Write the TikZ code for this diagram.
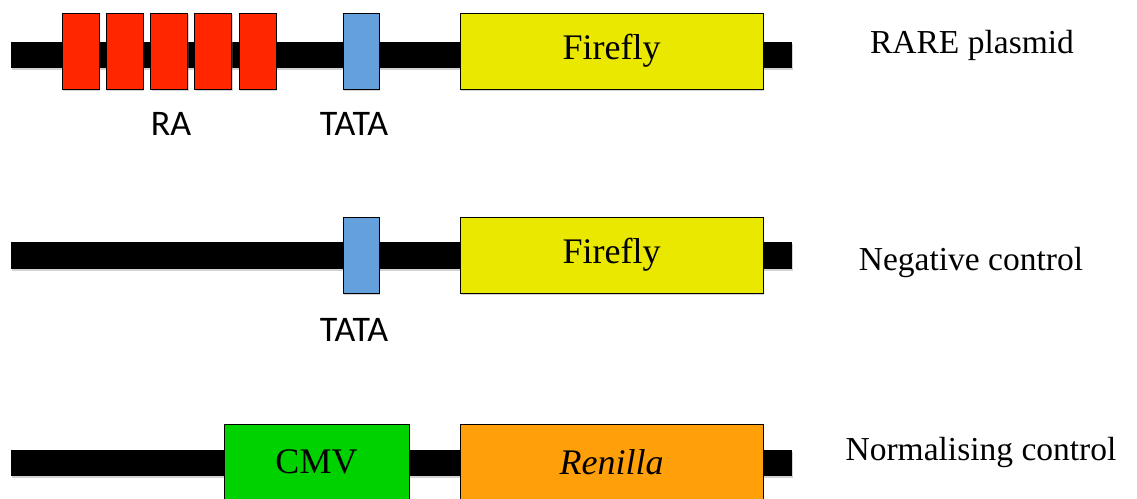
\documentclass[tikz,border=0pt]{standalone}
\usepackage{fontspec}
\setmainfont{Liberation Serif}
\newfontfamily\labelfont{Carlito}
\usetikzlibrary{shadows}
\definecolor{RaClr}{RGB}{255,38,0}
\definecolor{TataClr}{RGB}{99,160,220}
\definecolor{FireClr}{RGB}{235,232,0}
\definecolor{CmvClr}{RGB}{0,210,0}
\definecolor{RenClr}{RGB}{255,160,10}

\begin{document}
\begin{tikzpicture}[x=1pt,y=-1pt,
  backbone/.style={fill=black,drop shadow={opacity=0.35,shadow xshift=1pt,shadow yshift=-2pt}},
  part/.style={draw=black,line width=1pt,minimum height=76pt,inner sep=0pt,
    drop shadow={opacity=0.35,shadow xshift=1pt,shadow yshift=-2pt}},
  partlbl/.style={font=\labelfont\fontsize{36}{40}\selectfont},
  rowlbl/.style={font=\fontsize{33.5}{38}\selectfont}]
\useasboundingbox (0,0) rectangle (1137,498);

% RARE plasmid
\fill[backbone] (11,42) rectangle (792,68);
\foreach \i/\x in {1/80.5,2/124.5,3/169,4/213,5/257.5}
  \node[part,fill=RaClr,minimum width=37pt] (ra\i) at (\x,51) {};
\node[part,fill=TataClr,minimum width=36pt] (tataA) at (361,51) {};
\node[part,fill=FireClr,minimum width=303pt,font=\fontsize{36}{40}\selectfont] (fireA) at (611.5,51) {\raisebox{-3pt}{Firefly}};
\node[partlbl] (raLbl) at (171,124) {RA};
\node[partlbl] (tataLblA) at (354,124) {TATA};
\node[rowlbl] (rowA) at (972,45) {RARE plasmid};

% Negative control
\fill[backbone] (11,242) rectangle (792,269);
\node[part,fill=TataClr,minimum width=36pt] (tataB) at (361,255) {};
\node[part,fill=FireClr,minimum width=303pt,font=\fontsize{36}{40}\selectfont] (fireB) at (611.5,255) {\raisebox{-3pt}{Firefly}};
\node[partlbl] (tataLblB) at (354,330) {TATA};
\node[rowlbl] (rowB) at (971,262) {Negative control};

% Normalising control
\fill[backbone] (11,450) rectangle (792,476);
\node[part,fill=CmvClr,minimum width=185pt,font=\fontsize{36}{40}\selectfont] (cmv) at (316.5,462) {CMV};
\node[part,fill=RenClr,minimum width=303pt,font=\fontsize{36}{40}\selectfont\itshape] (ren) at (611.5,462) {\raisebox{-3pt}{Renilla}};
\node[rowlbl] (rowC) at (981,452) {Normalising control};

\end{tikzpicture}
\end{document}
